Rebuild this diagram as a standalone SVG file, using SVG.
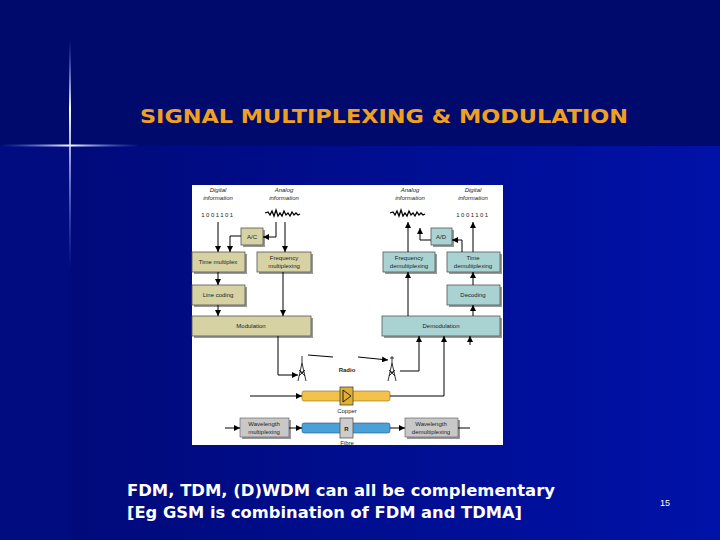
<svg xmlns="http://www.w3.org/2000/svg" width="720" height="540" viewBox="0 0 720 540">
<defs>
<linearGradient id="bg" x1="0" y1="0" x2="1" y2="0"><stop offset="0" stop-color="#000a7a"/><stop offset="1" stop-color="#0012a8"/></linearGradient>
<linearGradient id="hl" x1="0" y1="0" x2="1" y2="0"><stop offset="0" stop-color="#6a8cff" stop-opacity="0"/><stop offset="0.5" stop-color="#ffffff"/><stop offset="1" stop-color="#6a8cff" stop-opacity="0"/></linearGradient>
<linearGradient id="vl" x1="0" y1="0" x2="0" y2="1"><stop offset="0" stop-color="#6a8cff" stop-opacity="0"/><stop offset="0.3" stop-color="#ffffff"/><stop offset="1" stop-color="#6a8cff" stop-opacity="0"/></linearGradient>
<marker id="a" viewBox="0 0 10 10" refX="10" refY="5" markerWidth="6" markerHeight="6" orient="auto"><path d="M0,0L10,5L0,10z" fill="#000"/></marker>
</defs>
<style>
.t{font-family:"Liberation Sans",Arial,sans-serif;fill:#222;font-size:6px;text-anchor:middle}
.i{font-style:italic}
.tan{fill:#d6d2a4;stroke:#555;stroke-width:0.8}
.teal{fill:#a9d3d3;stroke:#555;stroke-width:0.8}
.sh{fill:#999}
.c{stroke:#000;stroke-width:1;fill:none}
.ca{stroke:#000;stroke-width:1;fill:none;marker-end:url(#a)}
.w{font-family:"DejaVu Sans",Verdana,sans-serif;fill:#fff;font-weight:bold}
</style>
<rect width="720" height="540" fill="#001090"/>
<rect width="720" height="146" fill="#000a6c"/>
<rect x="70" y="146" width="650" height="394" fill="url(#bg)"/>
<rect x="0" y="146" width="70" height="394" fill="#000c80"/>
<rect x="0" y="144.5" width="140" height="2" fill="url(#hl)"/>
<rect x="69" y="40" width="2" height="230" fill="url(#vl)"/>
<text x="140" y="123" font-family="DejaVu Sans,Verdana,sans-serif" font-weight="bold" font-size="20" fill="#f0a020" textLength="488" lengthAdjust="spacingAndGlyphs">SIGNAL MULTIPLEXING &amp; MODULATION</text>

<rect x="192" y="185" width="311" height="260" fill="#fff"/>
<g id="labels">
<text class="t i" x="218" y="192">Digital</text><text class="t i" x="218" y="200">information</text>
<text class="t" x="218" y="217" font-size="7" letter-spacing="1.5">1001101</text>
<text class="t i" x="284" y="192">Analog</text><text class="t i" x="284" y="200">information</text>
<path d="M265,213l3,-1l2,3l2,-4l2,5l2,-6l2,6l2,-3l2,3l2,-5l2,4l2,-2l2,3l2,-4l2,3l2,-2l2,2l2,-1" fill="none" stroke="#000" stroke-width="1.3"/>
<text class="t i" x="410" y="192">Analog</text><text class="t i" x="410" y="200">information</text>
<path d="M390,213l3,-1l2,3l2,-4l2,5l2,-6l2,6l2,-3l2,3l2,-5l2,4l2,-2l2,3l2,-4l2,3l2,-2l2,2l2,-1" fill="none" stroke="#000" stroke-width="1.3"/>
<text class="t i" x="473" y="192">Digital</text><text class="t i" x="473" y="200">information</text>
<text class="t" x="473" y="217" font-size="7" letter-spacing="1.5">1001101</text>
</g>
<g id="nodes">
<g id="ac"><rect class="sh" x="243" y="230" width="22" height="17"/><rect class="tan" x="241" y="228" width="22" height="17"/><text class="t" x="252" y="239">A/C</text></g>
<g id="tmux"><rect class="sh" x="194" y="254" width="53" height="20"/><rect class="tan" x="192" y="252" width="53" height="20"/><text class="t" x="218" y="264">Time multiplex</text></g>
<g id="fmux"><rect class="sh" x="259" y="254" width="54" height="20"/><rect class="tan" x="257" y="252" width="54" height="20"/><text class="t" x="284" y="260">Frequency</text><text class="t" x="284" y="268">multiplexing</text></g>
<g id="lc"><rect class="sh" x="194" y="287" width="53" height="20"/><rect class="tan" x="192" y="285" width="53" height="20"/><text class="t" x="218" y="297">Line coding</text></g>
<g id="mod"><rect class="sh" x="194" y="318" width="119" height="20"/><rect class="tan" x="192" y="316" width="119" height="20"/><text class="t" x="251" y="328">Modulation</text></g>
<g id="ad"><rect class="sh" x="433" y="230" width="21" height="17"/><rect class="teal" x="431" y="228" width="21" height="17"/><text class="t" x="441" y="239">A/D</text></g>
<g id="fdemux"><rect class="sh" x="385" y="254" width="52" height="20"/><rect class="teal" x="383" y="252" width="52" height="20"/><text class="t" x="409" y="260">Frequency</text><text class="t" x="409" y="268">demultiplexing</text></g>
<g id="tdemux"><rect class="sh" x="449" y="254" width="53" height="20"/><rect class="teal" x="447" y="252" width="53" height="20"/><text class="t" x="473" y="260">Time</text><text class="t" x="473" y="268">demultiplexing</text></g>
<g id="dec"><rect class="sh" x="449" y="287" width="53" height="20"/><rect class="teal" x="447" y="285" width="53" height="20"/><text class="t" x="473" y="297">Decoding</text></g>
<g id="demod"><rect class="sh" x="384" y="318" width="118" height="20"/><rect class="teal" x="382" y="316" width="118" height="20"/><text class="t" x="441" y="328">Demodulation</text></g>
<g id="tower1" stroke="#000" fill="none" stroke-width="0.8"><path d="M302,356V363M298,381L302,363L306,381M299,376L305,370M305,376L299,370M300,372H304"/></g>
<g id="tower2" stroke="#000" fill="none" stroke-width="0.8"><path d="M392,356V363M390,358H394M388,381L392,363L396,381M389,376L395,370M395,376L389,370M390,372H394"/></g>
<text class="t" x="347" y="372" font-weight="bold">Radio</text>
<g id="copper"><rect x="302" y="391" width="88" height="10" rx="2" fill="#f4c24a" stroke="#8a6a10" stroke-width="0.6"/><rect x="340" y="387" width="13" height="18" fill="#e0b030" stroke="#444" stroke-width="0.8"/><path d="M343,390L351,396L343,402z" fill="none" stroke="#000" stroke-width="0.8"/></g>
<text class="t" x="347" y="413">Copper</text>
<g id="wmux"><rect class="sh" x="242" y="420" width="49" height="19"/><rect x="240" y="418" width="49" height="19" fill="#c8c8c8" stroke="#555" stroke-width="0.6"/><text class="t" x="264" y="426">Wavelength</text><text class="t" x="264" y="434">multiplexing</text></g>
<g id="fibre"><rect x="302" y="423" width="88" height="10" rx="2" fill="#4aa0d8" stroke="#205080" stroke-width="0.6"/><rect x="340" y="418" width="13" height="20" fill="#ccc" stroke="#555" stroke-width="0.8"/><text class="t" x="346.5" y="431" font-weight="bold">R</text></g>
<g id="wdemux"><rect class="sh" x="407" y="420" width="53" height="19"/><rect x="405" y="418" width="53" height="19" fill="#c8c8c8" stroke="#555" stroke-width="0.6"/><text class="t" x="431" y="426">Wavelength</text><text class="t" x="431" y="434">demultiplexing</text></g>
<text class="t" x="347" y="445">Fibre</text>
</g>
<g id="connectors">
<path class="ca" d="M218,222V252"/>
<path class="ca" d="M241,236H230V252"/>
<path class="ca" d="M276,222V237H263"/>
<path class="ca" d="M285,222V252"/>
<path class="ca" d="M218,272V285"/>
<path class="ca" d="M218,305V316"/>
<path class="ca" d="M283,272V316"/>
<path class="c" d="M278,336V375"/><path class="ca" d="M278,375H298"/>
<path class="c" d="M308,355L333,357"/><path class="ca" d="M358,357L388,360"/>
<path class="ca" d="M400,371H419V336"/>
<path class="ca" d="M250,396H302"/>
<path class="ca" d="M390,396H444V336"/>
<path class="ca" d="M470,345V336"/>
<path class="ca" d="M225,428H240"/>
<path class="ca" d="M289,428H302"/>
<path class="ca" d="M390,428H405"/>
<path class="c" d="M458,428H470"/>
<path class="ca" d="M408,252V222"/>
<path class="ca" d="M431,240H420V228"/>
<path class="ca" d="M462,252V240H452"/>
<path class="ca" d="M473,252V222"/>
<path class="ca" d="M473,285V272"/>
<path class="ca" d="M473,316V305"/>
<path class="ca" d="M408,316V272"/>
</g>
<text class="w" x="127" y="496" font-size="15" textLength="428" lengthAdjust="spacingAndGlyphs">FDM,  TDM,  (D)WDM can all be complementary</text>
<text class="w" x="127" y="518" font-size="15" textLength="395" lengthAdjust="spacingAndGlyphs">[Eg  GSM is combination of FDM and TDMA]</text>
<text x="660" y="506" font-family="Liberation Sans,Arial,sans-serif" font-size="9" fill="#fff">15</text>
</svg>
